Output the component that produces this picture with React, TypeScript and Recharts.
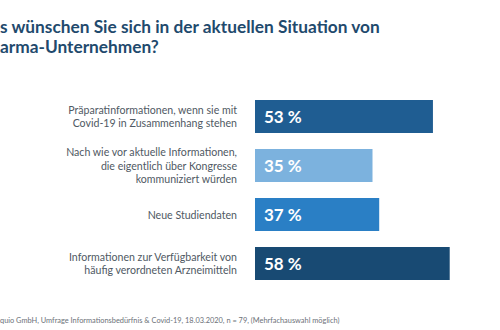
import { BarChart, Bar, XAxis, YAxis, Cell, LabelList } from "recharts";

const categories = [
  "Präparatinformationen, wenn sie mit\nCovid-19 in Zusammenhang stehen",
  "Nach wie vor aktuelle Informationen,\ndie eigentlich über Kongresse\nkommuniziert würden",
  "Neue Studiendaten",
  "Informationen zur Verfügbarkeit von\nhäufig verordneten Arzneimitteln",
];
const values = [53, 35, 37, 58];
const barColors = ["#1f5d92", "#7cb2de", "#2a7fc5", "#184a73"];

const titleLines = ["s wünschen Sie sich in der aktuellen Situation von", "arma-Unternehmen?"];
const footnote =
  "quio GmbH, Umfrage Informationsbedürfnis & Covid-19, 18.03.2020, n = 79, (Mehrfachauswahl möglich)";

const data = categories.map((c, i) => ({ name: c, value: values[i] }));

const font = "Lato, 'Open Sans', sans-serif";

function CategoryTick(props: any) {
  const { x, y, payload } = props;
  const lines = String(payload.value).split("\n");
  const lh = 13.5;
  const start = -((lines.length - 1) * lh) / 2;
  return (
    <text x={x} y={y} textAnchor="end" fill="#4f5963" fontSize={10.6} fontFamily={font}>
      {lines.map((l, i) => (
        <tspan key={i} x={x} dy={i === 0 ? start + 4 : lh}>
          {l}
        </tspan>
      ))}
    </text>
  );
}

function ValueLabel(props: any) {
  const { x, y, height, value } = props;
  return (
    <text
      x={x + 9}
      y={y + height / 2 + 6}
      fill="#ffffff"
      fontSize={17}
      fontWeight={700}
      fontFamily={font}
    >
      {value} %
    </text>
  );
}

export default function App() {
  return (
    <div style={{ position: "absolute", left: 0, top: 0, width: 500, height: 330, background: "#fff" }}>
      <div
        style={{
          position: "absolute",
          left: 0,
          top: 17,
          fontFamily: font,
          fontWeight: 700,
          fontSize: 17.3,
          lineHeight: "20px",
          color: "#1f4a6d",
          whiteSpace: "nowrap",
        }}
      >
        {titleLines.map((t, i) => (
          <div key={i}>{t}</div>
        ))}
      </div>
      <BarChart
        width={500}
        height={330}
        data={data}
        layout="vertical"
        margin={{ top: 92, right: 10, bottom: 42, left: 0 }}
      >
        <XAxis type="number" domain={[0, 70]} hide />
        <YAxis
          type="category"
          dataKey="name"
          width={255}
          axisLine={false}
          tickLine={false}
          tickMargin={12}
          tick={<CategoryTick />}
          interval={0}
        />
        <Bar dataKey="value" barSize={33} isAnimationActive={false}>
          {data.map((d, i) => (
            <Cell key={d.name} fill={barColors[i]} />
          ))}
          <LabelList dataKey="value" content={<ValueLabel />} />
        </Bar>
      </BarChart>
      <div
        style={{
          position: "absolute",
          left: 0,
          top: 316,
          fontFamily: font,
          fontSize: 7.4,
          color: "#6b7178",
          whiteSpace: "nowrap",
        }}
      >
        {footnote}
      </div>
    </div>
  );
}
